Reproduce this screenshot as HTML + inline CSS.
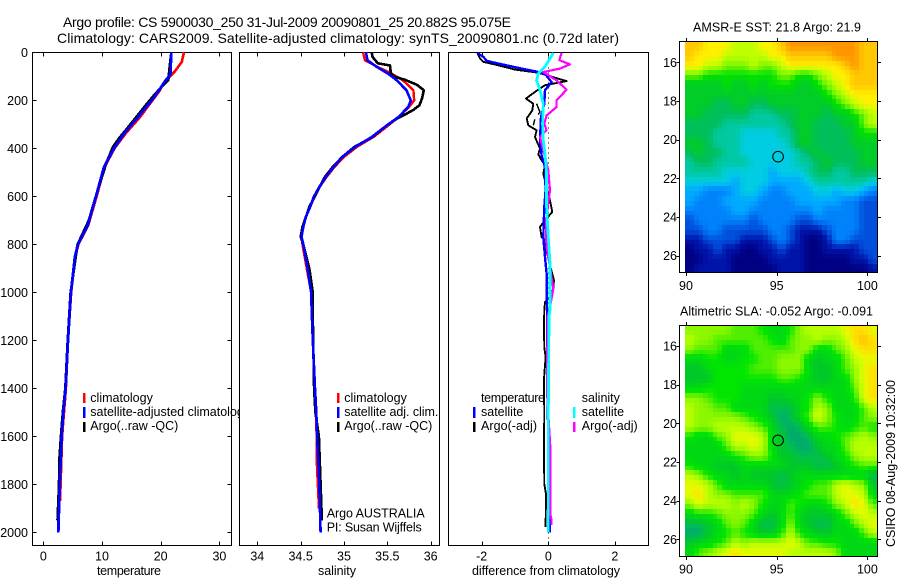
<!DOCTYPE html>
<html lang="en">
<head>
<meta charset="utf-8">
<title>Argo profile CS 5900030_250</title>
<style>
html,body{margin:0;padding:0;background:#fff;width:900px;height:580px;overflow:hidden}
svg{display:block}
text{font-family:"Liberation Sans",Helvetica,Arial,sans-serif;fill:#000;font-size:12.5px}
.title{font-size:14px}
.maptitle{font-size:12.5px}
</style>
</head>
<body>
<svg id="chart" xmlns="http://www.w3.org/2000/svg" width="900" height="580" viewBox="0 0 900 580">
  <rect x="0" y="0" width="900" height="580" fill="#fff"/>
  <text class="title" x="63" y="27" textLength="448">Argo profile: CS 5900030_250 31-Jul-2009 20090801_25 20.882S 95.075E</text>
  <text class="title" x="57" y="43" textLength="562">Climatology: CARS2009. Satellite-adjusted climatology: synTS_20090801.nc (0.72d later)</text>
  <g id="temperature-panel"></g>
  <g id="salinity-panel"></g>
  <g id="difference-panel"></g>
  <g id="sst-map"></g>
  <g id="sla-map"></g>
  <text class="maptitle" x="693" y="31.7" textLength="168">AMSR-E SST: 21.8 Argo: 21.9</text>
  <text class="maptitle" x="680" y="315.7" textLength="193">Altimetric SLA: -0.052 Argo: -0.091</text>
  <text transform="translate(895,547) rotate(-90)" x="0" y="0" textLength="167">CSIRO 08-Aug-2009 10:32:00</text>
</svg>
<script>
// ---------- profile data ----------
const depthTicks = [0,200,400,600,800,1000,1200,1400,1600,1800,2000];
const tempTicks = [0,10,20,30];
const salTicks = [34,34.5,35,35.5,36];
const salTickLabels = ['34','34.5','35','35.5','36'];
const diffTicks = [-2,0,2];
const lonTicks = [90,95,100];
const latTicks = [16,18,20,22,24,26];

const tempClimDepth = [0,40,60,80,100,117,165,200,269,339,400,478,600,700,720,800,850,1000,1200,1400,1600,1800,1870];
const tempClim = [23.97,23.6,23,22.4,21.6,20.8,19.7,18.6,16.5,14.0,12.15,10.45,9.1,7.9,7.65,6.0,5.45,4.75,4.2,3.85,3.2,2.95,2.85];
const tempSatDepth = [0,92,117,165,200,269,339,400,478,600,700,720,800,850,1000,1200,1400,1500,1600,1800,2000];
const tempSat = [21.8,21.65,20.85,19.5,18.47,16.15,13.75,12.05,10.34,8.98,7.8,7.6,5.9,5.4,4.7,4.2,3.8,3.4,3.13,2.8,2.55];
const tempArgoDepth = [0,73,117,130,172,213,283,317,353,394,457,600,700,800,1000,1200,1400,1500,1600,1700,1800,1950];
const tempArgo = [21.8,21.46,21.3,20.7,19.1,17.7,15.4,14.3,13.07,11.85,10.8,8.95,7.75,5.85,4.65,4.15,3.75,3.33,3.0,2.72,2.68,2.42];

const salClimDepth = [0,33,61,89,117,158,200,228,269,311,353,394,436,478,519,561,603,644,686,728,769,800,900,1000,1100,1200,1400,1500,1700,1900];
const salClim = [35.22,35.24,35.39,35.55,35.68,35.8,35.81,35.75,35.63,35.49,35.34,35.15,35.0,34.89,34.8,34.72,34.66,34.61,34.56,34.53,34.51,34.52,34.57,34.62,34.63,34.64,34.665,34.68,34.685,34.71];
const salSatDepth = [0,33,61,89,117,158,200,228,269,311,353,394,436,478,519,561,603,644,686,728,769,800,900,1000,1100,1200,1400,1500,1600,1800,2000];
const salSat = [35.254,35.27,35.377,35.51,35.61,35.72,35.77,35.74,35.63,35.47,35.32,35.13,34.98,34.88,34.79,34.715,34.65,34.61,34.56,34.53,34.51,34.53,34.58,34.62,34.63,34.64,34.665,34.68,34.69,34.715,34.73];
const salArgoDepth = [0,20,46,55,86,100,114,135,158,193,221,240,260,274,311,353,394,436,478,519,561,603,644,686,728,769,800,900,1000,1100,1200,1400,1500,1600,1800,1950];
const salArgo = [35.32,35.33,35.39,35.53,35.54,35.57,35.7,35.84,35.92,35.9,35.87,35.8,35.7,35.62,35.47,35.33,35.12,34.98,34.87,34.78,34.72,34.66,34.6,34.56,34.52,34.5,34.53,34.6,34.64,34.64,34.645,34.655,34.67,34.71,34.73,34.745];

const diffTempSatDepth = [3,19,36,50,68,82,90,124,158,214,270,367,430,478,575,644,770,853,922,1060,1200,1400,1600,2000];
const diffTempSat = [-2.13,-1.95,-1.85,-1.4,-0.8,-0.3,-0.1,0.1,-0.1,-0.12,-0.22,-0.25,-0.2,-0.1,-0.08,-0.12,-0.15,-0.1,-0.05,-0.04,-0.04,-0.03,0,0.05];
const diffTempArgoDepth = [3,26,40,54,72,85,110,120,137,165,193,214,242,276,304,325,353,401,425,450,471,505,617,665,700,728,770,783,830,912,950,983,1014,1040,1075,1145,1230,1270,1360,1400,1500,1650,1800,1840,1978];
const diffTempArgo = [-2.13,-2.05,-1.95,-1.5,-1.0,-0.3,0.3,0.55,-0.1,-0.4,-0.67,-0.45,-0.48,-0.65,-0.6,-0.35,-0.4,-0.25,-0.3,-0.2,-0.1,-0.15,0.05,0.12,-0.1,-0.25,-0.2,-0.1,-0.05,0.1,0.17,0.15,0.08,-0.1,-0.12,-0.13,-0.12,-0.08,-0.13,-0.13,-0.12,-0.13,-0.12,-0.07,-0.08];
const diffTempArgoAltDepth = [214,249,276,304];
const diffTempArgoAlt = [-0.35,-0.25,-0.4,-0.45];
const diffSalSatDepth = [3,61,89,117,158,214,297,367,422,505,644,770,880,1075,1100,1500,2000];
const diffSalSat = [0.15,-0.1,-0.3,-0.35,-0.25,-0.15,-0.17,-0.15,-0.1,-0.05,-0.05,0,0.05,0.05,0.02,0,0];
const diffSalArgoDepth = [3,33,50,68,82,117,156,200,228,263,297,325,353,408,492,575,700,770,811,922,985,1040,1103,1408,1436,1505,1645,1922,1950,1970];
const diffSalArgo = [0.4,0.33,0.65,0.35,-0.15,0.25,0.55,0.25,0.25,-0.05,-0.12,-0.05,-0.25,-0.15,0,0.05,-0.07,-0.07,-0.05,0.08,0.15,0.08,-0.02,-0.04,-0.03,0,0.06,0.06,0.1,0.1];

// ---------- map data (colour-scale level per half-degree cell, north to south) ----------
const sstRows = [
[13,13,12,12,12,11,11,11,12,12,13,14,14,14,14,14,14,14,14,13,13],
[13,12,12,12,11,11,11,11,11,12,12,13,13,13,13,13,14,14,14,13,13],
[12,12,11,11,10,10,10,11,10,10,11,12,12,12,12,12,12,13,14,13,13],
[10,10,9,9,9,9,9,9,9,9,10,10,9,9,10,11,12,12,13,13,13],
[8,8,8,8,9,8,8,9,8,9,9,9,8,8,9,10,11,12,13,13,13],
[8,8,8,8,8,8,8,8,8,8,8,8,8,8,8,9,10,11,12,12,12],
[8,8,8,7,7,8,8,7,7,8,8,8,8,8,8,8,9,10,11,12,12],
[8,8,7,7,7,7,7,6,6,6,7,7,8,8,8,7,8,8,9,10,11],
[7,7,7,7,6,6,6,6,6,6,6,7,8,8,7,7,7,8,8,10,11],
[7,7,7,6,6,6,5,5,5,5,6,6,8,8,7,7,7,7,8,9,9],
[8,8,7,6,6,6,5,5,5,5,5,6,8,8,7,7,7,7,8,8,8],
[7,8,7,7,6,6,5,5,5,5,5,5,6,7,8,7,7,7,7,8,8],
[6,7,7,6,6,6,6,5,5,5,5,5,6,6,7,8,7,7,7,8,8],
[6,6,6,6,5,5,5,5,5,4,5,5,5,6,7,7,6,6,7,7,7],
[5,5,5,5,5,4,5,5,5,4,4,4,4,5,6,6,6,6,6,6,5],
[4,4,3,3,3,4,5,5,4,3,3,4,4,4,5,5,4,5,5,4,3],
[4,3,3,3,4,4,4,4,3,3,3,3,4,4,4,4,4,3,3,2,2],
[3,3,3,3,3,4,4,3,3,3,3,3,3,3,4,3,3,3,3,2,2],
[2,3,3,3,3,3,3,2,3,3,3,3,2,2,3,3,3,3,3,2,2],
[2,2,3,3,2,2,2,2,2,3,3,2,1,1,1,2,3,3,3,2,2],
[1,1,2,2,2,2,1,1,1,2,3,2,1,0,0,1,3,3,2,2,2],
[0,1,1,2,1,1,0,0,1,1,2,1,1,0,0,1,1,1,1,2,2],
[0,0,1,1,1,0,0,0,0,1,1,1,1,0,0,0,0,0,1,1,2],
[0,1,1,1,1,0,0,0,0,0,1,1,1,0,0,0,0,0,0,0,1]
];
const slaRows = [
[6,6,6,6,6,5,5,5,4,3,3,4,6,7,7,7,7,8,9,9,8],
[7,6,6,5,5,5,5,5,5,4,3,5,6,6,7,6,6,7,9,10,9],
[6,5,5,5,3,3,3,5,5,5,5,5,6,6,3,3,5,6,8,9,9],
[3,3,4,4,3,3,4,4,5,5,6,6,6,3,2,3,3,5,7,8,8],
[2,2,3,4,4,4,4,5,5,5,6,6,6,3,2,2,3,5,6,8,9],
[2,2,2,4,4,4,4,4,4,4,5,5,4,3,2,2,3,3,6,8,9],
[3,3,4,4,4,4,3,3,3,3,3,3,3,3,3,3,3,3,5,8,9],
[6,6,5,4,4,4,3,3,3,2,2,3,3,4,6,4,3,3,4,8,9],
[7,6,6,5,5,3,3,3,3,1,1,1,3,4,7,6,3,3,3,5,7],
[7,6,6,6,6,6,5,4,3,2,0,1,3,5,8,6,4,3,3,5,6],
[7,6,6,7,7,7,7,6,5,3,1,0,1,3,5,5,4,3,4,5,4],
[4,3,3,5,6,8,8,8,7,3,2,0,0,1,3,3,4,5,6,7,6],
[3,3,3,3,5,7,7,8,7,3,2,1,0,0,2,3,3,5,7,7,7],
[3,3,3,3,3,4,5,6,6,4,2,2,1,1,1,2,3,4,6,7,7],
[4,3,3,2,2,2,3,3,3,3,3,2,2,2,1,1,2,3,4,5,5],
[7,6,4,3,3,2,3,2,2,2,1,2,3,3,3,3,3,3,3,3,1],
[8,8,7,5,3,3,3,3,3,2,1,2,3,4,5,5,7,8,7,6,2],
[8,9,7,6,6,5,5,5,5,3,3,3,4,5,5,5,7,8,8,7,3],
[6,8,7,7,7,6,7,6,4,3,3,5,4,3,3,4,6,7,9,8,5],
[3,4,4,5,6,6,6,5,3,2,3,5,3,2,2,2,3,5,7,8,7],
[1,1,2,3,5,6,5,3,1,1,3,6,3,2,1,1,3,3,5,7,8],
[0,0,2,3,4,5,4,3,2,2,4,7,4,3,2,2,3,3,3,5,7],
[2,3,3,4,5,7,6,7,7,7,7,8,7,5,5,4,4,3,3,3,3],
[3,5,6,7,8,9,8,8,8,8,8,7,7,7,7,7,6,3,3,3,3]
];
const floatLon = 95.075;
const floatLat = 20.882;

// colour ramps (appearance only)
const sstRamp = ['#000082','#0014aa','#0050dc','#0082fa','#00aaff','#00cde1','#00c8a0','#00be5a','#00cd28','#00e100','#78f500','#beff00','#fff000','#ffc800','#ff9600'];
const slaRamp = ['#00aa6e','#00be50','#00c828','#00d814','#00e600','#50ee00','#8cf800','#baff00','#e6fa00','#ffe100','#ffbe00'];

// ---------- axis functions ----------
const yDepth = d => 52.3 + d * 0.24;
const xTemp = t => 43.3 + t * 5.87;
const xSal = s => 257.3 + (s - 34) * 86.7;
const xDiff = v => 548.3 + v * 33.3;
const xLon = lon => 686 + (lon - 90) * 18.14;

const NS = 'http://www.w3.org/2000/svg';
function mk(tag, attrs, parent) {
  const el = document.createElementNS(NS, tag);
  for (const k in attrs) el.setAttribute(k, attrs[k]);
  parent.appendChild(el);
  return el;
}
function label(parent, name, str, x, y, anchor) {
  const t = mk('text', {x: x, y: y, 'text-anchor': anchor || 'start'}, parent);
  t.textContent = str;
  
  
  return t;
}
function hline(parent, name, x1, y1, x2, y2) {
  const l = mk('line', {x1: x1, y1: y1, x2: x2, y2: y2, stroke: '#000', 'stroke-width': 1, 'shape-rendering': 'crispEdges'}, parent);
  
  
  return l;
}
function series(parent, name, depths, values, xFn, color, width, extra) {
  const pts = values.map((v, i) => xFn(v).toFixed(1) + ',' + yDepth(depths[i]).toFixed(1)).join(' ');
  const attrs = {points: pts, fill: 'none', stroke: color, 'stroke-width': width, 'stroke-linejoin': 'round', 'shape-rendering': 'crispEdges'};
  for (const k in (extra || {})) attrs[k] = extra[k];
  const p = mk('polyline', attrs, parent);
  
  
  return p;
}
function legendMark(parent, name, x, yTop, h, color) {
  const r = mk('rect', {x: x, y: yTop, width: 2.4, height: h, fill: color, 'shape-rendering': 'crispEdges'}, parent);
  
  
}
function panel(parent, name, left, right, ticks, xFn, tickLabels) {
  const top = 52.5, bottom = 545.5;
  const bg = mk('rect', {x: left, y: top, width: right - left, height: bottom - top, fill: '#fff', stroke: '#000', 'stroke-width': 1, 'shape-rendering': 'crispEdges'}, parent);
  
  
  ticks.forEach((v, i) => {
    const x = Math.round(xFn(v)) + 0.5;
    hline(parent, name + '-top-tick', x, top, x, top + 4);
    hline(parent, name + '-bottom-tick', x, bottom, x, bottom - 4);
    label(parent, name + '-x-tick-label', tickLabels[i], xFn(v), 560.5, 'middle');
  });
}

// ---------- temperature panel ----------
const g1 = document.getElementById('temperature-panel');
panel(g1, 'temperature', 32.5, 231.5, tempTicks, xTemp, tempTicks.map(String));
depthTicks.forEach(d => {
  const y = Math.round(yDepth(d)) + 0.5;
  hline(g1, 'depth-left-tick', 32.5, y, 36.5, y);
  hline(g1, 'depth-right-tick', 231.5, y, 227.5, y);
  label(g1, 'depth-tick-label', String(d), 28, yDepth(d) + 4.5, 'end');
});
series(g1, 'temperature-climatology-line', tempClimDepth, tempClim, xTemp, '#f00', 2.6);
series(g1, 'temperature-argo-line', tempArgoDepth, tempArgo, xTemp, '#000', 2.6);
series(g1, 'temperature-satellite-line', tempSatDepth, tempSat, xTemp, '#00f', 2.8);
label(g1, 'x-axis-title-temperature', 'temperature', 129, 575, 'middle').setAttribute('textLength', '64');
legendMark(g1, 'legend-mark-climatology', 83, 393, 10, '#f00');
legendMark(g1, 'legend-mark-satellite-adjusted', 83, 407, 11, '#00f');
legendMark(g1, 'legend-mark-argo', 83, 422, 10, '#000');
label(g1, 'legend-text-climatology', 'climatology', 90.3, 402);
label(g1, 'legend-text-satellite-adjusted', 'satellite-adjusted climatology', 90.3, 416);
label(g1, 'legend-text-argo', 'Argo(..raw -QC)', 90.3, 430).setAttribute('textLength', '88');

// ---------- salinity panel ----------
const g2 = document.getElementById('salinity-panel');
panel(g2, 'salinity', 239.5, 439.5, salTicks, xSal, salTickLabels);
series(g2, 'salinity-climatology-line', salClimDepth, salClim, xSal, '#f00', 2.4);
series(g2, 'salinity-argo-line', salArgoDepth, salArgo, xSal, '#000', 2.6);
series(g2, 'salinity-satellite-line', salSatDepth, salSat, xSal, '#00f', 2.6);
label(g2, 'x-axis-title-salinity', 'salinity', 337, 575, 'middle').setAttribute('textLength', '38');
legendMark(g2, 'legend-mark-climatology', 337, 393, 10, '#f00');
legendMark(g2, 'legend-mark-satellite-adj', 337, 407, 11, '#00f');
legendMark(g2, 'legend-mark-argo', 337, 422, 10, '#000');
label(g2, 'legend-text-climatology', 'climatology', 344.3, 402);
label(g2, 'legend-text-satellite-adj', 'satellite adj. clim.', 344.3, 416).setAttribute('textLength', '94');
label(g2, 'legend-text-argo', 'Argo(..raw -QC)', 344.3, 430).setAttribute('textLength', '88');
label(g2, 'float-owner-label', 'Argo AUSTRALIA', 326.7, 517.3).setAttribute('textLength', '98');
label(g2, 'principal-investigator-label', 'PI: Susan Wijffels', 326.7, 531.7).setAttribute('textLength', '95');

// ---------- difference panel ----------
const g3 = document.getElementById('difference-panel');
panel(g3, 'difference', 448.5, 648.5, diffTicks, xDiff, diffTicks.map(String));
const zeroLine = hline(g3, 'zero-difference-line', 548.5, 52.5, 548.5, 545.5);
zeroLine.setAttribute('stroke-dasharray', '1 4');
label(g3, 'legend-heading-temperature', 'temperature', 481, 402).setAttribute('textLength', '64');
label(g3, 'legend-text-temperature-satellite', 'satellite', 481, 416);
label(g3, 'legend-text-temperature-argo', 'Argo(-adj)', 481, 430).setAttribute('textLength', '56');
series(g3, 'difference-temperature-argo-line', diffTempArgoDepth, diffTempArgo, xDiff, '#000', 1.9);
series(g3, 'difference-temperature-argo-alt-line', diffTempArgoAltDepth, diffTempArgoAlt, xDiff, '#000', 1.5, {'stroke-dasharray': '12 6'});
series(g3, 'difference-temperature-satellite-line', diffTempSatDepth, diffTempSat, xDiff, '#00f', 2.4);
series(g3, 'difference-salinity-argo-line', diffSalArgoDepth, diffSalArgo, xDiff, '#f0f', 2.2);
series(g3, 'difference-salinity-satellite-line', diffSalSatDepth, diffSalSat, xDiff, '#0ff', 2.8);
label(g3, 'x-axis-title-difference', 'difference from climatology', 546, 575, 'middle').setAttribute('textLength', '148');
label(g3, 'legend-heading-salinity', 'salinity', 581.7, 402);
label(g3, 'legend-text-salinity-satellite', 'satellite', 581.7, 416);
label(g3, 'legend-text-salinity-argo', 'Argo(-adj)', 581.7, 430).setAttribute('textLength', '56');
legendMark(g3, 'legend-mark-temperature-satellite', 473, 407, 11, '#00f');
legendMark(g3, 'legend-mark-temperature-argo', 473, 422, 10, '#000');
legendMark(g3, 'legend-mark-salinity-satellite', 573, 407, 11, '#0ff');
legendMark(g3, 'legend-mark-salinity-argo', 573, 422, 10, '#f0f');

// ---------- maps ----------
function hexToRgb(h) {
  return [parseInt(h.slice(1,3),16), parseInt(h.slice(3,5),16), parseInt(h.slice(5,7),16)];
}
function rampColor(ramp, level) {
  const lv = Math.max(0, Math.min(ramp.length - 1, level));
  const i = Math.min(ramp.length - 2, Math.floor(lv));
  const f = lv - i;
  const a = hexToRgb(ramp[i]), b = hexToRgb(ramp[i + 1]);
  return 'rgb(' + a.map((c, k) => Math.round(c + (b[k] - c) * f)).join(',') + ')';
}
// display resampling: each half-degree value is drawn as quarter-degree pixels, as in the original image
function sampleLevel(rows, u, v) {
  const cu = Math.max(0, Math.min(rows[0].length - 1, u));
  const cv = Math.max(0, Math.min(rows.length - 1, v));
  const c0 = Math.floor(cu), r0 = Math.floor(cv);
  const c1 = Math.min(rows[0].length - 1, c0 + 1), r1 = Math.min(rows.length - 1, r0 + 1);
  const fu = cu - c0, fv = cv - r0;
  return (rows[r0][c0] * (1 - fu) + rows[r0][c1] * fu) * (1 - fv) + (rows[r1][c0] * (1 - fu) + rows[r1][c1] * fu) * fv;
}
function drawMap(id, prefix, rows, ramp, lat16Y, frameTop, frameBottom, labelY) {
  const g = document.getElementById(id);
  const yLat = lat => lat16Y + (lat - 16) * 19.33;
  const frame = mk('rect', {x: 679.5, y: frameTop, width: 198, height: frameBottom - frameTop, fill: '#fff', stroke: '#000', 'stroke-width': 1, 'shape-rendering': 'crispEdges'}, g);
  
  
  const nCols = rows[0].length * 2;
  const nRows = rows.length * 2;
  const cellLon = 10.6 / nCols;
  const cellLat = 12 / nRows;
  const lat0 = 16 + (frameTop - lat16Y) / 19.33;
  for (let r = 0; r < nRows; r++) {
    for (let c = 0; c < nCols; c++) {
      const level = sampleLevel(rows, (c + 0.5) / 2 - 0.5, (r + 0.5) / 2 - 0.5);
      const x0 = Math.round(xLon(89.95 + c * cellLon));
      const x1 = Math.min(877, Math.round(xLon(89.95 + (c + 1) * cellLon)));
      const y0 = Math.max(frameTop + 0.5, Math.round(yLat(lat0 + r * cellLat)));
      const y1 = Math.min(frameBottom - 0.5, Math.round(yLat(lat0 + (r + 1) * cellLat)));
      const cell = mk('rect', {x: x0, y: y0, width: x1 - x0, height: y1 - y0, fill: rampColor(ramp, level), 'shape-rendering': 'crispEdges'}, g);
      
      
    }
  }
  lonTicks.forEach(lon => {
    const x = Math.round(xLon(lon)) + 0.5;
    hline(g, prefix + '-lon-top-tick', x, frameTop - 3.5, x, frameTop);
    hline(g, prefix + '-lon-bottom-tick', x, frameBottom, x, frameBottom + 3.5);
    label(g, prefix + '-lon-tick-label', String(lon), xLon(lon), labelY, 'middle');
  });
  latTicks.forEach(lat => {
    const y = Math.round(yLat(lat)) + 0.5;
    hline(g, prefix + '-lat-left-tick', 676.5, y, 679.5, y);
    hline(g, prefix + '-lat-right-tick', 877.5, y, 881, y);
    label(g, prefix + '-lat-tick-label', String(lat), 677, yLat(lat) + 4.5, 'end');
  });
  const mark = mk('circle', {cx: xLon(floatLon), cy: yLat(floatLat), r: 5.3, fill: 'none', stroke: '#000', 'stroke-width': 1}, g);
  
  
}
drawMap('sst-map', 'sst', sstRows, sstRamp, 62.3, 41.5, 272.5, 290);
drawMap('sla-map', 'sla', slaRows, slaRamp, 346, 325.5, 556.5, 573.5);
</script>
</body>
</html>
